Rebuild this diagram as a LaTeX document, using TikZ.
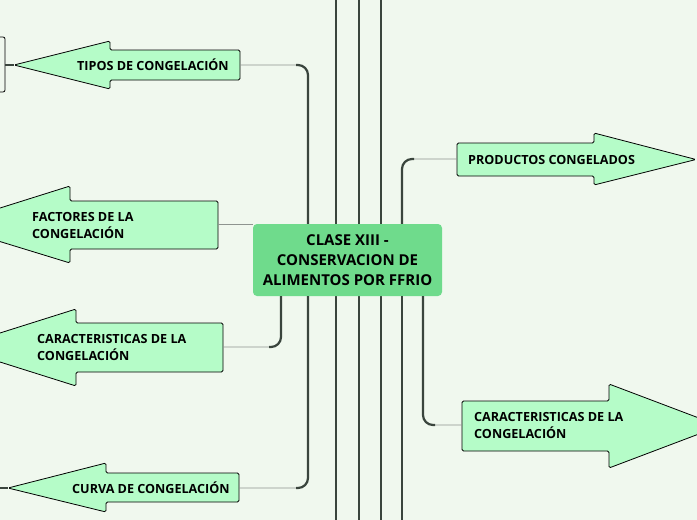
\documentclass[tikz,border=0pt]{standalone}
\usepackage{fontspec}
\setmainfont{Open Sans}
\definecolor{bg}{HTML}{F0F8EE}
\definecolor{mint}{HTML}{B5FCC8}
\definecolor{central}{HTML}{6FDB8C}
\definecolor{lineDark}{HTML}{3A453D}
\definecolor{lineGray}{HTML}{8E948F}
\begin{document}
\begin{tikzpicture}[x=1pt,y=-1pt,
  arrowshape/.style={draw=black, line width=0.8pt, fill=mint, rounded corners=1.5pt},
  lbl/.style={font=\bfseries\fontsize{12.6}{17}\selectfont, align=left, inner sep=0pt, anchor=west},
  conthick/.style={draw=lineDark, line width=2.2pt, rounded corners=10pt},
  conthin/.style={draw=lineGray, line width=0.9pt, rounded corners=10pt},
  fullline/.style={draw=lineDark, line width=2.2pt},
  centralbox/.style={fill=central, rounded corners=4pt, minimum width=189pt, minimum height=72pt,
    align=center, inner sep=0pt, font=\bfseries\fontsize{15}{20}\selectfont}]
\useasboundingbox (0,0) rectangle (697,520);
\fill[bg] (0,0) rectangle (697,520);
\clip (0,0) rectangle (697,520);

% full-height lines
\coordinate (v1t) at (336,0); \coordinate (v1b) at (336,520);
\coordinate (v2t) at (359,0); \coordinate (v2b) at (359,520);
\coordinate (v3t) at (381,0); \coordinate (v3b) at (381,520);
\draw[fullline] (v1t) -- (v1b);
\draw[fullline] (v2t) -- (v2b);
\draw[fullline] (v3t) -- (v3b);

% x stations of connectors
\coordinate (xT) at (308,0);
\coordinate (xCL) at (281,0);
\coordinate (xP) at (402,0);
\coordinate (xCR) at (423,0);
\coordinate (v4b) at (402,520);

% left partial box
\draw[line width=0.8pt, rounded corners=2pt] (-40,37) rectangle (5,92);
\coordinate (lbox) at (5,65);

% arrow shapes
% TIPOS
\draw[arrowshape] (240,50) -- (110,50) -- (110,41) -- (14,65) -- (110,89) -- (110,80) -- (240,80) -- cycle;
\coordinate (tiposE) at (240,65); \coordinate (tiposTip) at (14,65);
% FACTORES
\draw[arrowshape] (218,201) -- (70,201) -- (70,186) -- (-54,225) -- (70,263) -- (70,249) -- (218,249) -- cycle;
\coordinate (facE) at (218,224);
% CARACTERISTICAS left
\draw[arrowshape] (223,323) -- (76,323) -- (76,309) -- (-46,347.5) -- (76,386) -- (76,372) -- (223,372) -- cycle;
\coordinate (carlE) at (223,347);
% CURVA
\draw[arrowshape] (239,473) -- (106,473) -- (106,463) -- (8,488) -- (106,512) -- (106,502) -- (239,502) -- cycle;
\coordinate (curE) at (239,488); \coordinate (curTip) at (8,488); \coordinate (curOut) at (0,488);
% PRODUCTOS
\draw[arrowshape] (457,143) -- (594,143) -- (594,133) -- (696,159.5) -- (594,185) -- (594,176) -- (457,176) -- cycle;
\coordinate (prodW) at (457,159);
% CARACTERISTICAS right
\draw[arrowshape] (462,401) -- (609,401) -- (609,384) -- (720,426) -- (609,468) -- (609,451) -- (462,451) -- cycle;
\coordinate (carrW) at (462,425);

% labels
\node[lbl] (tipos) at (77,65) {TIPOS DE CONGELACIÓN};
\node[lbl] (factores) at (32,225) {FACTORES DE LA\\CONGELACIÓN};
\node[lbl] (carl) at (37,347.5) {CARACTERISTICAS DE LA\\CONGELACIÓN};
\node[lbl] (curva) at (72,488) {CURVA DE CONGELACIÓN};
\node[lbl] (prod) at (468,159.5) {PRODUCTOS CONGELADOS};
\node[lbl] (carr) at (474,425.5) {CARACTERISTICAS DE LA\\CONGELACIÓN};

% central node
\node[centralbox] (c) at (347.5,260) {CLASE XIII -\\CONSERVACION DE\\ALIMENTOS POR FFRIO};

% connectors
\draw[fullline] (c.south -| xP) -- (v4b);
\draw[conthin] (c.north -| xT) |- (tiposE);
\draw[conthick] (c.north -| xT) |- ([xshift=-12pt]xT |- tiposE);
\draw[conthin] (c.south -| xT) |- (curE);
\draw[conthick] (c.south -| xT) |- ([xshift=-12pt]xT |- curE);
\draw[conthin] (c.south -| xCL) |- (carlE);
\draw[conthick] (c.south -| xCL) |- ([xshift=-12pt]xCL |- carlE);
\draw[conthin] (c.north -| xP) |- (prodW);
\draw[conthick] (c.north -| xP) |- ([xshift=12pt]xP |- prodW);
\draw[conthin] (c.south -| xCR) |- (carrW);
\draw[conthick] (c.south -| xCR) |- ([xshift=12pt]xCR |- carrW);
\draw[conthin] (facE) -- (facE -| c.west);
\draw[draw=lineDark, line width=1.2pt] (lbox) -- (tiposTip);
\draw[draw=lineDark, line width=1.2pt] (curOut) -- (curTip);
\end{tikzpicture}
\end{document}
